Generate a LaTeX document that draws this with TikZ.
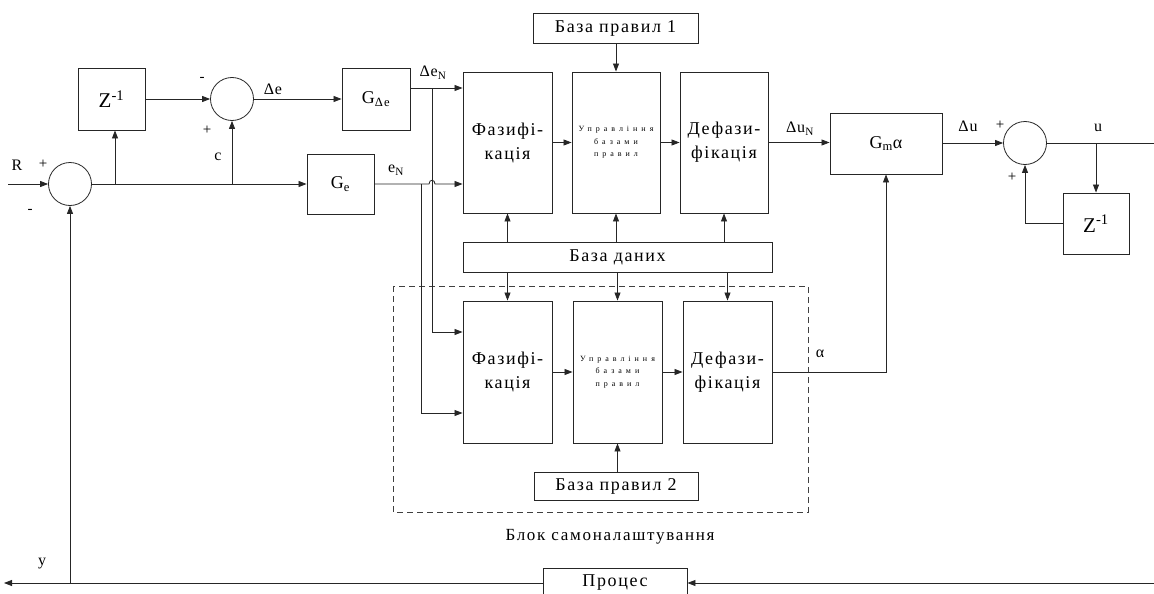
\documentclass[tikz,border=0pt]{standalone}
\usepackage{fontspec}
\setmainfont{Liberation Serif}
\newfontfamily\spacedfont[LetterSpace=9]{Liberation Serif}
\newfontfamily\lblfont[LetterSpace=5]{Liberation Serif}
\newfontfamily\widefont[LetterSpace=9]{Liberation Serif}
\newfontfamily\blockfont[LetterSpace=10]{Liberation Serif}
\newfontfamily\tinyspfont[LetterSpace=50]{Liberation Serif}
\usetikzlibrary{arrows.meta}
\begin{document}
\begin{tikzpicture}[x=1pt,y=-1pt,
  line width=0.8pt, draw=black!85,
  >={Triangle[length=8pt,width=6pt]},
  blk/.style={draw=black!85, line width=0.9pt, inner sep=0pt, align=center,
    font=\spacedfont\fontsize{18}{21}\selectfont},
  fzblk/.style={blk, font=\widefont\fontsize{18}{24}\selectfont},
  tinyblk/.style={draw=black!85, line width=0.9pt, inner sep=0pt, align=center,
    font=\tinyspfont\fontsize{8}{12.5}\selectfont},
  sumc/.style={draw=black!85, circle, inner sep=0pt, minimum size=43pt},
  lbl/.style={inner sep=0pt, font=\lblfont\fontsize{16}{18}\selectfont},
  sgn/.style={inner sep=0pt, font=\fontsize{15}{17}\selectfont}]
\useasboundingbox (0,0) rectangle (1154,594);

% summing junctions
\node[sumc] (s1) at (70,184) {};
\node[sumc] (s2) at (232,99) {};
\node[sumc] (s3) at (1025,143) {};

% blocks
\node[blk, minimum width=67pt, minimum height=62pt, font=\fontsize{21}{23}\selectfont] (z1) at (111.5,99) {Z\textsuperscript{-1}};
\node[blk, minimum width=68pt, minimum height=62pt] (gde) at (376,99) {G\textsubscript{Δe}};
\node[blk, minimum width=67pt, minimum height=60pt] (ge) at (340.5,184) {G\textsubscript{e}};
\node[fzblk, minimum width=89pt, minimum height=141pt] (fz1) at (507.5,142.5) {Фазифі-\\кація};
\node[tinyblk, minimum width=88pt, minimum height=141pt] (u1) at (616,142.5) {Управління\\базами\\правил};
\node[fzblk, minimum width=88pt, minimum height=141pt] (d1) at (724,142.5) {Дефази-\\фікація};
\node[blk, minimum width=165pt, minimum height=30pt] (bp1) at (615.5,28) {База правил 1};
\node[blk, minimum width=309pt, minimum height=30pt] (bd) at (617.5,257) {База даних};
\node[fzblk, minimum width=89pt, minimum height=142pt] (fz2) at (507.5,372) {Фазифі-\\кація};
\node[tinyblk, minimum width=89pt, minimum height=142pt] (u2) at (617.5,372) {Управління\\базами\\правил};
\node[fzblk, minimum width=89pt, minimum height=142pt] (d2) at (727.5,372) {Дефази-\\фікація};
\node[blk, minimum width=164pt, minimum height=28pt] (bp2) at (616,486) {База правил 2};
\node[blk, minimum width=112pt, minimum height=61pt] (gma) at (886,143.5) {G\textsubscript{m}α};
\node[blk, minimum width=66pt, minimum height=61pt, font=\fontsize{21}{23}\selectfont] (z2) at (1096,223.5) {Z\textsuperscript{-1}};
\node[blk, minimum width=144pt, minimum height=30pt] (proc) at (615,583) {Процес};

% self-tuning block frame
\draw[dashed, dash pattern=on 6pt off 4pt, line width=0.7pt, draw=black!75] (393,286) rectangle (808,512);
\node[lbl, font=\blockfont\fontsize{17}{19}\selectfont] (blk) at (610,537) {Блок самоналаштування};

% connectors
\coordinate (rin) at (8,184);
\draw[->] (rin) -- (s1.west);
\draw[->] (s1.east) -- (ge.west);
\coordinate (b1) at (115,184);
\draw[->] (b1) -- (b1 |- z1.south);
\draw[->] (z1.east) -- (s2.west);
\coordinate (b2) at (232,184);
\draw[->] (b2) -- (s2.south);
\draw[->] (s2.east) -- (gde.west);

\coordinate (de) at (432,88);
\coordinate (de2) at (432,332);
\draw[->] (gde.east |- de) -- (fz1.west |- de);
\draw[->] (de) -- (de2) -- (fz2.west |- de2);
\draw[->] (ge.east) -- (429,184) .. controls (429,179) and (435,179) .. (435,184) -- (fz1.west |- ge.east);
\coordinate (en) at (421,184);
\coordinate (en2) at (421,413);
\draw[->] (en) -- (en2) -- (fz2.west |- en2);

\draw[->] (u1.north |- bp1.south) -- (u1.north);
\draw[->] (fz1.east) -- (u1.west);
\draw[->] (u1.east) -- (d1.west);
\draw[->] (d1.east) -- (d1.east -| gma.west);

\draw[->] (fz1.south |- bd.north) -- (fz1.south);
\draw[->] (u1.south |- bd.north) -- (u1.south);
\draw[->] (d1.south |- bd.north) -- (d1.south);
\draw[->] (fz2.north |- bd.south) -- (fz2.north);
\draw[->] (u2.north |- bd.south) -- (u2.north);
\draw[->] (d2.north |- bd.south) -- (d2.north);

\draw[->] (fz2.east) -- (u2.west);
\draw[->] (u2.east) -- (d2.west);
\draw[->] (u2.south |- bp2.north) -- (u2.south);
\draw[->] (d2.east) -| (gma.south);

\draw[->] (gma.east |- s3) -- (s3.west);
\coordinate (uout) at (1154,143);
\draw (s3.east) -- (uout);
\coordinate (ub) at (1096,143);
\draw[->] (ub) -- (z2.north);
\draw[->] (z2.west) -| (s3.south);

\coordinate (pin) at (1154,583);
\draw[->] (pin) -- (proc.east);
\coordinate (yout) at (4,583);
\draw[->] (proc.west) -- (yout);
\coordinate (yb) at (70,583);
\draw[->] (yb) -- (s1.south);

% labels
\node[lbl] (lR) at (17,165) {R};
\node[sgn] (p1) at (43,164) {+};
\node[sgn] (m1) at (30,211) {-};
\node[sgn] (m2) at (202,79) {-};
\node[sgn] (p2) at (207,130) {+};
\node[lbl] (lc) at (218,157) {c};
\node[lbl] (lde) at (273,89) {Δe};
\node[lbl] (ldeN) at (433,73) {Δe\textsubscript{N}};
\node[lbl] (leN) at (396,170) {e\textsubscript{N}};
\node[lbl] (lduN) at (800,129) {Δu\textsubscript{N}};
\node[lbl] (ldu) at (968,126) {Δu};
\node[sgn] (p3) at (1000,125) {+};
\node[sgn] (p4) at (1012,177) {+};
\node[lbl] (lu) at (1098,128) {u};
\node[lbl] (la) at (820,354) {α};
\node[lbl] (ly) at (42,564) {y};
\end{tikzpicture}
\end{document}
